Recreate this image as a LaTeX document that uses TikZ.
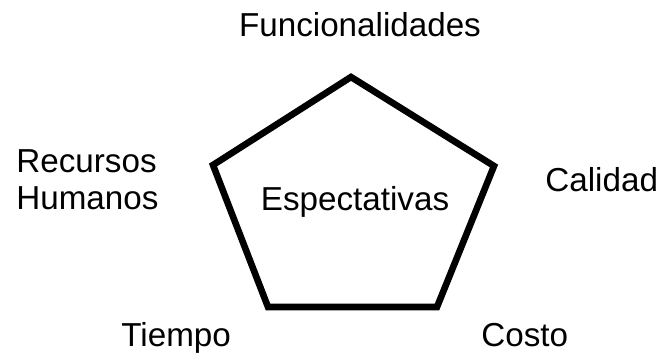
\documentclass[tikz,border=0pt]{standalone}
\usepackage{fontspec}
\setmainfont{Liberation Sans}
\begin{document}
\begin{tikzpicture}[x=0.5pt,y=-0.5pt,lbl/.style={font=\fontsize{16.6}{18.3}\selectfont,inner sep=0pt}]
		\useasboundingbox (0,0) rectangle (656,360);
		\coordinate (f) at (351,77);
		\coordinate (c) at (494,166);
		\coordinate (co) at (437,307);
		\coordinate (t) at (268,307);
		\coordinate (r) at (213,165);
		\draw[line width=3.3pt] (f)--(c)--(co)--(t)--(r)--cycle;
		\node[lbl,anchor=base] (esp) at (355,210) {Espectativas};
		\node[lbl,anchor=base] (func) at (360,36.5) {Funcionalidades};
		\node[lbl,anchor=base west] (cal) at (545,191) {Calidad};
		\node[lbl,anchor=base west] (cos) at (481,346) {Costo};
		\node[lbl,anchor=base west] (tie) at (121,346) {Tiempo};
		\node[lbl,anchor=west,align=left] (rh) at (16,180) {Recursos\\Humanos};
		
		\end{tikzpicture}
\end{document}
